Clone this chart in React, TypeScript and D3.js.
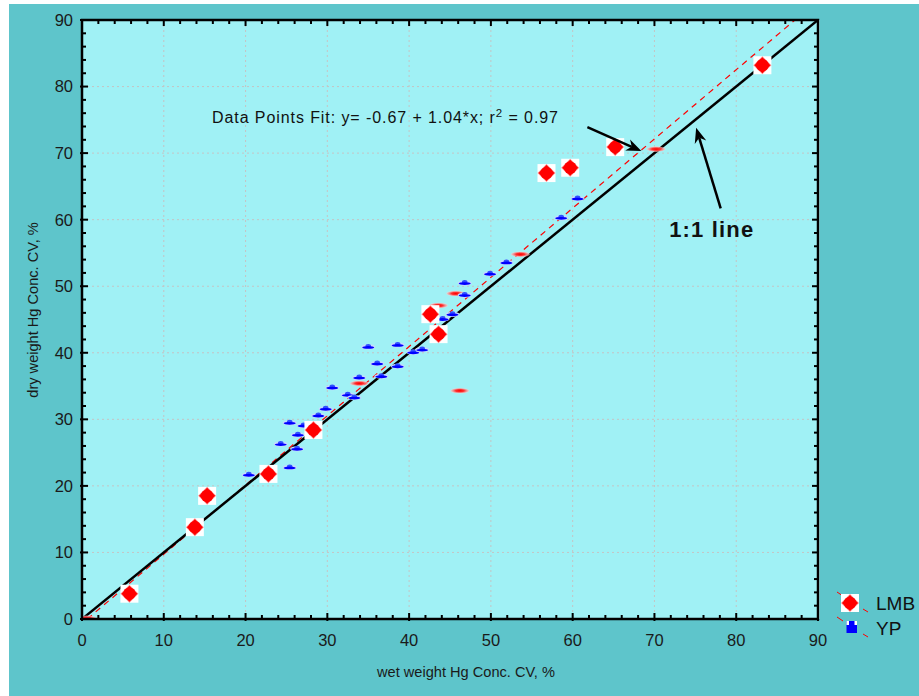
import React from "react";
import * as d3 from "d3";

const lmbX = [5.8, 13.8, 15.3, 22.8, 28.3, 42.6, 43.6, 56.8, 59.7, 65.2, 83.2];
const lmbY = [3.8, 13.8, 18.5, 21.8, 28.4, 45.8, 42.8, 67.0, 67.8, 70.9, 83.2];

const lmbFlatX = [0.6, 33.9, 43.6, 45.7, 46.2, 53.6, 70.2];
const lmbFlatY = [0.1, 35.4, 47.1, 48.9, 34.3, 54.8, 70.6];

const ypX = [20.4, 22.9, 24.3, 25.4, 26.3, 26.4, 27.1, 25.4, 28.9, 29.8, 30.6, 32.5, 33.3, 33.9, 35.0, 36.1, 36.6, 38.6, 38.6, 40.5, 41.6, 44.1, 45.3, 46.8, 46.8, 49.9, 51.9, 58.6, 60.6];
const ypY = [21.6, 22.3, 26.2, 22.7, 25.5, 27.6, 29.0, 29.4, 30.5, 31.5, 34.7, 33.6, 33.2, 36.2, 40.8, 38.3, 36.4, 41.1, 37.9, 40.0, 40.4, 45.0, 45.7, 48.6, 50.4, 51.8, 53.5, 60.2, 63.1];

const xTicks = [0, 10, 20, 30, 40, 50, 60, 70, 80, 90];
const yTicks = [0, 10, 20, 30, 40, 50, 60, 70, 80, 90];
const fitIntercept = -0.67;
const fitSlope = 1.04;
const fitLabel = "Data Points Fit: y= -0.67 + 1.04*x;  r";
const fitLabelTail = " = 0.97";
const legendNames = ["LMB", "YP"];

const W = 919;
const H = 696;
const L = 82, R = 818, T = 20, B = 619;

export default function App() {
  const x = d3.scaleLinear().domain([0, 90]).range([L, R]);
  const y = d3.scaleLinear().domain([0, 90]).range([B, T]);
  const minor = d3.range(0, 91, 2);
  const fitX0 = -fitIntercept / fitSlope;
  const fitX1 = (90 - fitIntercept) / fitSlope;
  const line = d3.line<[number, number]>().x(d => x(d[0])).y(d => y(d[1]));
  const fitPath = line([[fitX0, 0], [fitX1, 90]]);
  const diagPath = line([[0, 0], [90, 90]]);
  const font = "Liberation Sans, Arial, sans-serif";

  const diamond = (cx: number, cy: number, key: string) => (
    <g key={key} transform={`translate(${cx},${cy})`}>
      <rect x={-9} y={-9} width={18} height={18} fill="#ffffff" />
      <path d="M0,-9 L9,0 L0,9 L-9,0 Z" fill="#ff2020" opacity={0.5} />
      <path d="M0,-8 L8,0 L0,8 L-8,0 Z" fill="#ff0000" />
      <circle r={6.2} fill="#ff0000" />
    </g>
  );

  const arrow = (x1: number, y1: number, x2: number, y2: number, key: string) => {
    const ang = Math.atan2(y2 - y1, x2 - x1);
    const len = 15, wid = 6;
    const bx = x2 - len * Math.cos(ang), by = y2 - len * Math.sin(ang);
    const nx = -Math.sin(ang), ny = Math.cos(ang);
    const mx = x2 - len * 0.7 * Math.cos(ang), my = y2 - len * 0.7 * Math.sin(ang);
    return (
      <g key={key}>
        <line x1={x1} y1={y1} x2={mx} y2={my} stroke="#000" strokeWidth={2.5} />
        <path d={`M${x2},${y2} L${bx + nx * wid},${by + ny * wid} L${mx},${my} L${bx - nx * wid},${by - ny * wid} Z`} fill="#000" />
      </g>
    );
  };

  return (
    <svg width={W} height={H} style={{ position: "absolute", left: 0, top: 0 }} fontFamily={font}>
      <defs>
        <radialGradient id="redSmear" cx="0.5" cy="0.5" r="0.5">
          <stop offset="0%" stopColor="#ff0000" />
          <stop offset="45%" stopColor="#ff3030" />
          <stop offset="100%" stopColor="#ffd0d0" stopOpacity={0.6} />
        </radialGradient>
        <clipPath id="plotClip">
          <rect x={L} y={T} width={R - L} height={B - T} />
        </clipPath>
      </defs>
      <rect x={9} y={4} width={W - 9} height={H - 4} fill="#5ec5cb" />
      <rect x={L} y={T} width={R - L + 2} height={B - T} fill="#a0f1f5" />

      {/* grid */}
      {xTicks.slice(1, -1).map(t => (
        <line key={"gx" + t} x1={x(t)} x2={x(t)} y1={T} y2={B} stroke="#c4c4c4" strokeWidth={1} strokeDasharray="2,3" />
      ))}
      {yTicks.slice(1, -1).map(t => (
        <line key={"gy" + t} x1={L} x2={R} y1={y(t)} y2={y(t)} stroke="#c4c4c4" strokeWidth={1} strokeDasharray="2,3" />
      ))}

      <g clipPath="url(#plotClip)">
        <path d={fitPath || ""} fill="none" stroke="#ff0000" strokeWidth={1.2} strokeDasharray="6,5" />
        <path d={diagPath || ""} fill="none" stroke="#000" strokeWidth={2.5} />
        {lmbFlatX.map((v, i) => (
          <ellipse key={"lf" + i} cx={x(v)} cy={y(lmbFlatY[i])} rx={9.5} ry={2.8} fill="url(#redSmear)" />
        ))}
        {ypX.map((v, i) => (
          <g key={"yp" + i} transform={`translate(${x(v)},${y(ypY[i])})`}>
            <ellipse cx={0} cy={-0.5} rx={7} ry={2.6} fill="#c8d8ff" />
            <ellipse cx={0} cy={-1.5} rx={2.8} ry={2} fill="#3050ff" />
            <ellipse cx={0} cy={0} rx={6} ry={1.4} fill="#0000ff" />
          </g>
        ))}
        {lmbX.map((v, i) => diamond(x(v), y(lmbY[i]), "lmb" + i))}
      </g>

      {/* frame */}
      <rect x={L} y={T} width={R - L} height={B - T} fill="none" stroke="#000" strokeWidth={2.5} />

      {/* ticks */}
      {minor.map(t => {
        const major = t % 10 === 0;
        const ln = major ? 6 : 4;
        return (
          <g key={"t" + t} stroke="#000" strokeWidth={2}>
            <line x1={x(t)} x2={x(t)} y1={B + (major ? 2 : 0)} y2={B - ln} />
            <line x1={x(t)} x2={x(t)} y1={T} y2={T + ln} />
            <line y1={y(t)} y2={y(t)} x1={L - (major ? 2 : 0)} x2={L + ln} />
            <line y1={y(t)} y2={y(t)} x1={R} x2={R - ln} />
          </g>
        );
      })}

      {/* tick labels */}
      {xTicks.map(t => (
        <text key={"xl" + t} x={x(t)} y={B + 27} textAnchor="middle" fontSize={16.5} fill="#1a1a1a">{t}</text>
      ))}
      {yTicks.map(t => (
        <text key={"yl" + t} x={L - 9} y={y(t)} dy="0.36em" textAnchor="end" fontSize={16.5} fill="#1a1a1a">{t}</text>
      ))}

      {/* axis titles */}
      <text x={466} y={677} textAnchor="middle" fontSize={14.6} fill="#1a1a1a">wet weight Hg Conc. CV, %</text>
      <text transform={`translate(38,${310}) rotate(-90)`} textAnchor="middle" fontSize={14.6} fill="#1a1a1a">dry weight Hg Conc. CV, %</text>

      {/* annotations */}
      <text x={x(15.9)} y={y(74.5)} fontSize={16} fill="#111" textLength={346} lengthAdjust="spacing">
        {fitLabel}
        <tspan dy={-6} fontSize={11.5}>2</tspan>
        <tspan dy={6}>{fitLabelTail}</tspan>
      </text>
      {arrow(x(61.8), y(73.9), x(68.4), y(70.3), "a1")}
      <text x={x(71.8)} y={y(57.4)} fontSize={22} fontWeight="bold" fill="#111" textLength={84} lengthAdjust="spacing">1:1 line</text>
      {arrow(x(78.1), y(61.7), x(75.1), y(73.8), "a2")}

      {/* legend */}
      {legendNames.map((n, i) => {
        const cy = 603 + i * 25;
        return (
          <g key={"lg" + n}>
            <line x1={837} y1={cy - 11} x2={843} y2={cy - 7} stroke="#ff0000" strokeWidth={1} />
            <line x1={863} y1={cy + 6} x2={868} y2={cy + 9} stroke="#ff0000" strokeWidth={1} />
            {i === 0 ? diamond(850, cy, "lgd") : (
              <g>
                <rect x={846.5} y={cy - 7} width={10.5} height={12} fill="#0000ff" />
                <rect x={846.5} y={cy - 7} width={2.5} height={4} fill="#ffffff" />
                <rect x={854.5} y={cy - 7} width={2.5} height={4} fill="#ffffff" />
              </g>
            )}
            <text x={876} y={cy + 7} fontSize={19} fill="#111">{n}</text>
          </g>
        );
      })}
    </svg>
  );
}
